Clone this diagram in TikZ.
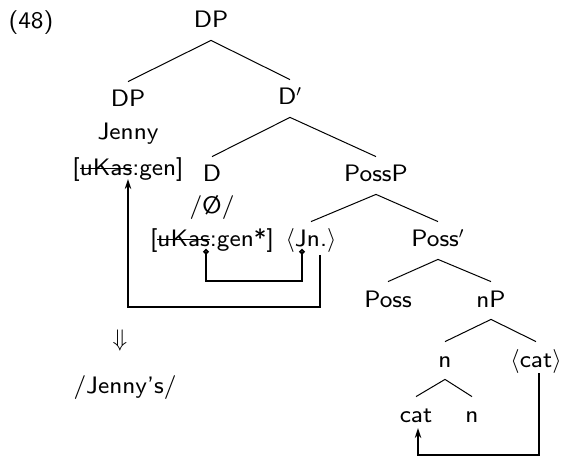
\documentclass[tikz,border=0pt]{standalone}
\usepackage{fontspec}
\setsansfont{lmsans8-regular.otf}
\usetikzlibrary{arrows.meta}
\usetikzlibrary{calc}
\newsavebox{\strbox}
\newcommand{\struck}[1]{\sbox{\strbox}{#1}\rlap{\rule[3.4pt]{\wd\strbox}{0.8pt}}\usebox{\strbox}}
\begin{document}
\begin{tikzpicture}[x=.5pt,y=-.5pt]
    \tikzstyle{every node}=[font=\fontsize{11.9pt}{15pt}\selectfont\sffamily]
    \tikzstyle{t} = [anchor=base,text height=8pt,text depth=1.5pt,inner xsep=1pt,inner ysep=4.5pt]
    \tikzstyle{l} = [anchor=base,inner sep=1pt]
    \tikzstyle{e} = [draw,line width=.5pt]
    \tikzstyle{mv} = [draw,line width=.9pt,-{Stealth[length=5pt,width=3.2pt]}]
    \tikzstyle{ag} = [draw,line width=.9pt,{Circle[open,length=2.8pt]}-{Circle[open,length=2.8pt]}]
    \useasboundingbox (0,0) rectangle (565,458);
    \node [l] (ex) at (31,29) {(48)};
    \node [t] (dp) at (211,28) {DP};
    \node [t] (dpa) at (128,107) {DP};
    \node [l] (jenny) at (128,140) {Jenny};
    \node [l] (kasa) at (128,176) {[\struck{uKas}:gen]};
    \node [t] (dbar) at (290,105) {D$'$};
    \node [t] (d) at (212,182) {D};
    \node [l] (null) at (212,214) {/Ø/};
    \node [l] (gstar) at (212,247) {[\struck{uKas}:gen*]};
    \node [t] (possp) at (376,182) {PossP};
    \node [t] (jn) at (311,247) {$\langle$Jn.$\rangle$};
    \node [t] (possbar) at (438,247) {Poss$'$};
    \node [t] (poss) at (388,307) {Poss};
    \node [t] (np) at (491,307) {nP};
    \node [t] (n1) at (445,367) {n};
    \node [t] (catt) at (536,367) {$\langle$cat$\rangle$};
    \node [t] (cat) at (416,422) {cat};
    \node [t] (n2) at (472,422) {n};
    \node (der) at (120,340) {$\Downarrow$};
    \node [l] (jennys) at (125,393) {/Jenny’s/};
    % tree
    \path [e] (dp.south) -- (dpa.north);
    \path [e] (dp.south) -- (dbar.north);
    \path [e] (dbar.south) -- (d.north);
    \path [e] (dbar.south) -- (possp.north);
    \path [e] (possp.south) -- (jn.north);
    \path [e] (possp.south) -- (possbar.north);
    \path [e] (possbar.south) -- (poss.north);
    \path [e] (possbar.south) -- (np.north);
    \path [e] (np.south) -- (n1.north);
    \path [e] (np.south) -- (catt.north);
    \path [e] (n1.south) -- (cat.north);
    \path [e] (n1.south) -- (n2.north);
    % movement and agree
    \path [mv] ($(jn.base)+(9,8)$) -- ++(0,52) -| ($(kasa.base)+(0,3)$);
    \path [mv] ($(catt.base)+(3,6)$) -- ++(0,82) -| ($(cat.base)+(2,6)$);
    \path [ag] ($(gstar.base)+(-6,2)$) -- ++(0,32) -| ($(jn.base)+(-9,2)$);
\end{tikzpicture}
\end{document}
